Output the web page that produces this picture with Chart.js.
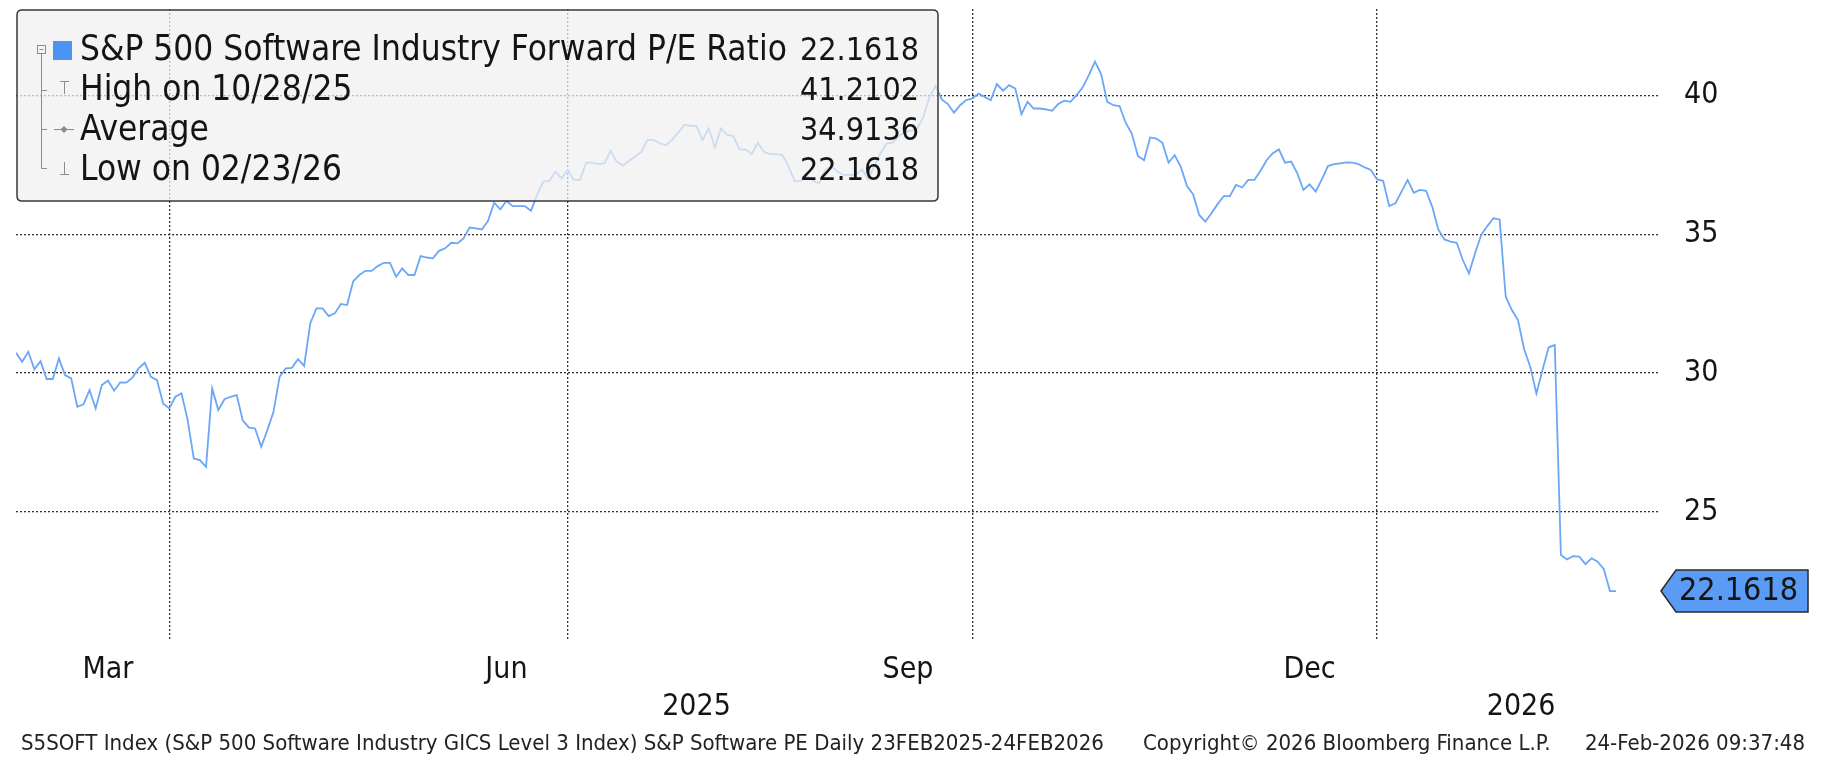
<!DOCTYPE html>
<html>
<head>
<meta charset="utf-8">
<title>S&P 500 Software Industry Forward P/E Ratio</title>
<script src="https://cdn.jsdelivr.net/npm/chart.js@4.4.1/dist/chart.umd.min.js"></script>
<style>
  html, body { margin: 0; padding: 0; background: #fff; }
  #wrap { position: relative; width: 1826px; height: 760px; }
</style>
</head>
<body>
<div id="wrap"><canvas id="peChart" width="1826" height="760"></canvas></div>
<script>
// one value per weekday: index 0 = 24 Feb 2025 ... index 261 = 24 Feb 2026
const peValues = [
  30.73, 30.41, 30.77, 30.14, 30.43, 29.79, 29.79, 30.53, 29.93, 29.81,
  28.79, 28.88, 29.39, 28.73, 29.57, 29.73, 29.37, 29.67, 29.66, 29.84,
  30.17, 30.37, 29.87, 29.75, 28.91, 28.73, 29.15, 29.27, 28.31, 26.93,
  26.87, 26.63, 29.45, 28.67, 29.06, 29.15, 29.21, 28.29, 28.04, 28.01,
  27.35, 27.95, 28.61, 29.87, 30.17, 30.19, 30.50, 30.26, 31.79, 32.33,
  32.33, 32.05, 32.15, 32.49, 32.45, 33.30, 33.53, 33.68, 33.68, 33.85,
  33.97, 33.97, 33.47, 33.77, 33.53, 33.53, 34.21, 34.16, 34.13, 34.40,
  34.49, 34.69, 34.67, 34.85, 35.24, 35.21, 35.17, 35.48, 36.13, 35.89,
  36.20, 36.01, 36.01, 36.01, 35.84, 36.41, 36.89, 36.92, 37.25, 37.01,
  37.31, 36.95, 36.95, 37.57, 37.57, 37.52, 37.55, 38.00, 37.60, 37.47,
  37.64, 37.79, 37.96, 38.39, 38.39, 38.27, 38.20, 38.39, 38.65, 38.93,
  38.90, 38.89, 38.39, 38.80, 38.12, 38.80, 38.57, 38.53, 38.05, 38.05,
  37.88, 38.29, 37.96, 37.88, 37.88, 37.85, 37.45, 36.92, 36.92, 37.09,
  36.92, 36.83, 37.30, 37.45, 37.25, 37.13, 37.13, 37.13, 37.33, 36.97,
  37.45, 37.90, 38.26, 38.29, 38.53, 38.68, 38.72, 38.80, 39.22, 39.94,
  40.33, 39.85, 39.68, 39.37, 39.64, 39.82, 39.88, 40.06, 39.94, 39.82,
  40.40, 40.16, 40.36, 40.24, 39.32, 39.76, 39.52, 39.52, 39.49, 39.44,
  39.68, 39.80, 39.76, 40.00, 40.28, 40.72, 41.2102, 40.76, 39.76, 39.64,
  39.61, 39.01, 38.62, 37.81, 37.66, 38.48, 38.44, 38.29, 37.57, 37.84,
  37.42, 36.73, 36.44, 35.69, 35.45, 35.75, 36.08, 36.37, 36.37, 36.77,
  36.68, 36.95, 36.95, 37.28, 37.66, 37.91, 38.05, 37.57, 37.61, 37.19,
  36.59, 36.79, 36.53, 36.97, 37.45, 37.52, 37.55, 37.58, 37.57, 37.52,
  37.40, 37.31, 36.97, 36.92, 36.01, 36.11, 36.53, 36.95, 36.49, 36.59,
  36.56, 35.99, 35.17, 34.81, 34.73, 34.69, 34.07, 33.59, 34.31, 34.97,
  35.29, 35.57, 35.53, 32.75, 32.27, 31.91, 30.86, 30.23, 29.27, 30.11,
  30.93, 31.01, 23.46, 23.30, 23.42, 23.40, 23.13, 23.34, 23.22, 22.95,
  22.1618, 22.1618
];

// weekday positions of the quarter ends (31 Mar, 30 Jun, 30 Sep, 31 Dec)
const quarterEnds = [25, 90, 156, 222];
const monthTicks = [15, 80, 145.5, 211];
const monthLabels = ['Mar', 'Jun', 'Sep', 'Dec'];
const yearTicks = [111, 245.5];
const yearLabels = ['2025', '2026'];
const yTicks = [25, 30, 35, 40];

const legendLabels = ['S&P 500 Software Industry Forward P/E Ratio', 'High on 10/28/25', 'Average', 'Low on 02/23/26'];
const legendValues = ['22.1618', '41.2102', '34.9136', '22.1618'];
const lastValue = 22.1618;

const footerSource = 'S5SOFT Index (S&P 500 Software Industry GICS Level 3 Index) S&P Software PE Daily 23FEB2025-24FEB2026';
const footerCopyright = 'Copyright\u00A9 2026 Bloomberg Finance L.P.';
const footerStamp = '24-Feb-2026 09:37:48';

const FONT = '"DejaVu Sans Condensed", "DejaVu Sans", sans-serif';
const TEXT = '#141414';
const GRID = '#333333';

// months on the first label line, years on the second one
const dateTicks = monthTicks.map((v, i) => ({ value: v, label: monthLabels[i] }))
    .concat(yearTicks.map((v, i) => ({ value: v, label: ['', yearLabels[i]] })))
    .sort((a, b) => a.value - b.value);

function fitSize(ctx, text, width) {
    ctx.font = '100px ' + FONT;
    return 100 * width / ctx.measureText(text).width;
}

const bbgOverlay = {
    id: 'bbgOverlay',
    afterDraw(chart) {
        const ctx = chart.ctx;
        const area = chart.chartArea;
        ctx.save();

        // legend box, see-through like the terminal one
        const bx = 17, by = 10, bw = 921, bh = 191, r = 5;
        ctx.beginPath();
        ctx.moveTo(bx + r, by);
        ctx.lineTo(bx + bw - r, by);
        ctx.quadraticCurveTo(bx + bw, by, bx + bw, by + r);
        ctx.lineTo(bx + bw, by + bh - r);
        ctx.quadraticCurveTo(bx + bw, by + bh, bx + bw - r, by + bh);
        ctx.lineTo(bx + r, by + bh);
        ctx.quadraticCurveTo(bx, by + bh, bx, by + bh - r);
        ctx.lineTo(bx, by + r);
        ctx.quadraticCurveTo(bx, by, bx + r, by);
        ctx.closePath();
        ctx.fillStyle = 'rgba(240,240,240,0.72)';
        ctx.fill();
        ctx.lineWidth = 1.5;
        ctx.strokeStyle = '#3a3a3a';
        ctx.stroke();

        // tree lines and markers
        ctx.strokeStyle = '#8c8c8c';
        ctx.lineWidth = 1;
        ctx.strokeRect(37.5, 45.5, 8, 8);
        ctx.beginPath();
        ctx.moveTo(39.5, 49.5); ctx.lineTo(43.5, 49.5);
        ctx.moveTo(41.5, 54); ctx.lineTo(41.5, 168.5);
        [90.5, 129.5, 168.5].forEach(y => { ctx.moveTo(41.5, y); ctx.lineTo(47, y); });
        // high marker
        ctx.moveTo(60, 81.5); ctx.lineTo(69, 81.5);
        ctx.moveTo(64.5, 81.5); ctx.lineTo(64.5, 94);
        // average marker
        ctx.moveTo(54, 129.5); ctx.lineTo(74, 129.5);
        // low marker
        ctx.moveTo(64.5, 162); ctx.lineTo(64.5, 174.5);
        ctx.moveTo(60, 174.5); ctx.lineTo(69, 174.5);
        ctx.stroke();
        ctx.fillStyle = '#8c8c8c';
        ctx.beginPath();
        ctx.moveTo(64, 126); ctx.lineTo(67.5, 129.5); ctx.lineTo(64, 133); ctx.lineTo(60.5, 129.5);
        ctx.closePath();
        ctx.fill();

        ctx.fillStyle = '#4c93f4';
        ctx.fillRect(53, 41, 19, 19);

        // legend text
        const legSize = Math.min(36, fitSize(ctx, legendLabels[0], 707));
        ctx.fillStyle = TEXT;
        ctx.textBaseline = 'alphabetic';
        legendLabels.forEach((label, i) => {
            const y = 60 + i * 40;
            ctx.font = legSize.toFixed(2) + 'px ' + FONT;
            ctx.textAlign = 'left';
            ctx.fillText(label, 80, y);
            ctx.font = '32px ' + FONT;
            ctx.textAlign = 'right';
            ctx.fillText(legendValues[i], 919, y);
        });

        // last value tag on the right axis
        const yc = chart.scales.y.getPixelForValue(lastValue);
        const tx = area.right + 2, half = 21;
        ctx.beginPath();
        ctx.moveTo(tx, yc);
        ctx.lineTo(tx + 15, yc - half);
        ctx.lineTo(1808, yc - half);
        ctx.lineTo(1808, yc + half);
        ctx.lineTo(tx + 15, yc + half);
        ctx.closePath();
        ctx.fillStyle = '#5a9bf6';
        ctx.fill();
        ctx.strokeStyle = '#2a2a2a';
        ctx.lineWidth = 1.5;
        ctx.stroke();
        ctx.fillStyle = TEXT;
        ctx.font = '32px ' + FONT;
        ctx.textAlign = 'left';
        ctx.textBaseline = 'middle';
        ctx.fillText(lastValue.toFixed(4), 1679, yc + 1);

        // footer line
        const footSize = fitSize(ctx, footerSource, 1083);
        ctx.font = footSize.toFixed(2) + 'px ' + FONT;
        ctx.fillStyle = '#222';
        ctx.textBaseline = 'alphabetic';
        ctx.textAlign = 'left';
        ctx.fillText(footerSource, 21, 750);
        ctx.fillText(footerCopyright, 1143, 750);
        ctx.textAlign = 'right';
        ctx.fillText(footerStamp, 1805, 750);

        ctx.restore();
    }
};

const points = peValues.map((v, i) => ({ x: i, y: v }));

const config = {
    type: 'line',
    data: {
        datasets: [{
            label: 'S&P 500 Software Industry Forward P/E Ratio',
            data: points,
            borderColor: '#6aa7f8',
            borderWidth: 1.8,
            pointRadius: 0,
            tension: 0,
            fill: false,
            xAxisID: 'x',
            yAxisID: 'y'
        }]
    },
    options: {
        responsive: false,
        animation: false,
        events: [],
        layout: {
            padding: { left: 16, top: 9, right: 0, bottom: 23 }
        },
        plugins: {
            legend: { display: false },
            tooltip: { enabled: false }
        },
        scales: {
            x: {
                type: 'linear',
                position: 'bottom',
                weight: 0,
                min: 0,
                max: 268,
                afterBuildTicks: s => { s.ticks = quarterEnds.map(v => ({ value: v })); },
                ticks: { display: false },
                grid: { color: GRID, lineWidth: 1.3, drawTicks: false },
                border: { display: false, dash: [2, 2] }
            },
            xDate: {
                type: 'linear',
                position: 'bottom',
                weight: 1,
                min: 0,
                max: 268,
                afterBuildTicks: s => { s.ticks = dateTicks.map(t => ({ value: t.value })); },
                ticks: {
                    callback: (v, i) => dateTicks[i].label,
                    autoSkip: false,
                    maxRotation: 0,
                    padding: 11.5,
                    color: TEXT,
                    font: { family: FONT, size: 30, lineHeight: 1.2333 }
                },
                grid: { display: false, drawTicks: false },
                border: { display: false }
            },
            y: {
                type: 'linear',
                position: 'right',
                min: 20.4,
                max: 43.1,
                afterBuildTicks: s => { s.ticks = yTicks.map(v => ({ value: v })); },
                afterFit: s => {
                    s.width = 167;
                    // the labels sit well inside the plot, so no extra room above/below
                    s.paddingTop = 0;
                    s.paddingBottom = 0;
                },
                ticks: {
                    padding: 25,
                    color: TEXT,
                    font: { family: FONT, size: 30 },
                    callback: v => String(v)
                },
                grid: { color: GRID, lineWidth: 1.3, drawTicks: false },
                border: { display: false, dash: [2, 2] }
            }
        }
    },
    plugins: [bbgOverlay]
};

const context = document.getElementById('peChart').getContext('2d');
const peChart = new Chart(context, config);
</script>
</body>
</html>
